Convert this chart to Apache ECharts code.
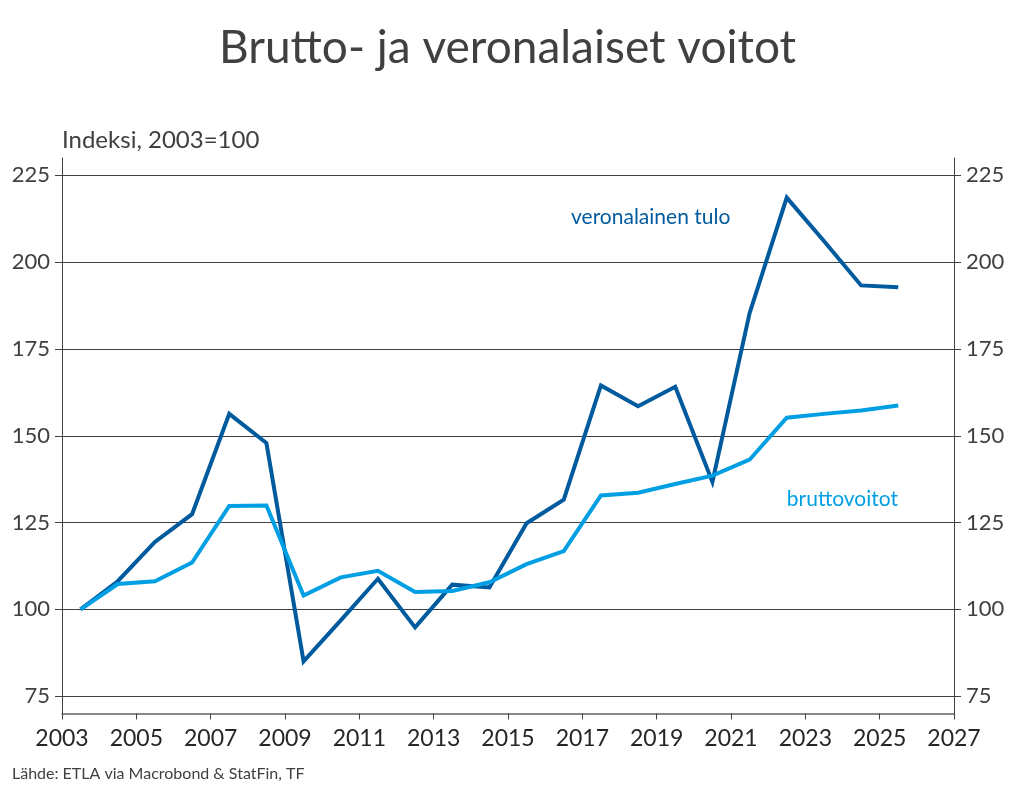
<!DOCTYPE html>
<html>
<head>
<meta charset="utf-8">
<script src="https://cdn.jsdelivr.net/npm/echarts@6/dist/echarts.min.js"></script>
<style>
html,body{margin:0;padding:0;background:#fff;}
#chart{width:1015px;height:789px;}
</style>
</head>
<body>
<div id="chart"></div>
<script>
// Data (years of observation; points plotted at mid-year)
const years = [2003,2004,2005,2006,2007,2008,2009,2010,2011,2012,2013,2014,2015,2016,2017,2018,2019,2020,2021,2022,2023,2024,2025];
const veronalainenTulo = [100,108.1,119.4,127.4,156.3,147.9,85.0,96.8,108.8,94.8,107.1,106.3,124.8,131.6,164.5,158.5,164.1,136.7,185.3,218.6,206.1,193.3,192.8];
const bruttovoitot = [100,107.3,108.1,113.5,129.8,129.9,104.0,109.2,111.1,105.0,105.3,107.8,113.0,116.8,132.8,133.6,136.1,138.5,143.1,155.2,156.3,157.3,158.7];
const xTickLabels = [2003,2005,2007,2009,2011,2013,2015,2017,2019,2021,2023,2025,2027];
const yTickLabels = [75,100,125,150,175,200,225];

const FONT = 'Lato';
const TXT = '#404040';
const DARK = '#005A9E';
const LIGHT = '#009FE3';

const chart = echarts.init(document.getElementById('chart'));

function yAxisCfg(pos) {
  return {
    type: 'value',
    position: pos,
    min: 70,
    max: 230,
    axisLine: { show: true, lineStyle: { color: TXT, width: 1 } },
    axisTick: { show: true, length: 7, customValues: yTickLabels, lineStyle: { color: TXT, width: 1 } },
    axisLabel: { customValues: yTickLabels, margin: 12, color: TXT, fontFamily: FONT, fontSize: 22 },
    splitLine: { show: pos === 'left', lineStyle: { color: TXT, width: 1 } }
  };
}

chart.setOption({
  animation: false,
  backgroundColor: '#fff',
  title: {
    text: 'Brutto- ja veronalaiset voitot',
    left: 'center',
    top: 20,
    textStyle: { color: TXT, fontFamily: FONT, fontSize: 46, fontWeight: 'normal' }
  },
  grid: { left: 62, right: 61, top: 158, bottom: 75.5, containLabel: false },
  xAxis: {
    type: 'value',
    min: 2003,
    max: 2027,
    axisLine: { show: true, onZero: false, lineStyle: { color: '#606060', width: 1.5 } },
    axisTick: { show: true, length: 6, customValues: xTickLabels, lineStyle: { color: TXT, width: 1 } },
    axisLabel: { customValues: xTickLabels, formatter: v => String(v), margin: 14, color: '#262626', fontFamily: FONT, fontSize: 23 },
    splitLine: { show: false }
  },
  yAxis: [yAxisCfg('left'), yAxisCfg('right')],
  series: [
    {
      name: 'veronalainen tulo',
      type: 'line',
      yAxisIndex: 0,
      data: years.map((y, i) => [y + 0.5, veronalainenTulo[i]]),
      symbol: 'none',
      lineStyle: { color: DARK, width: 4, join: 'miter' },
      z: 3
    },
    {
      name: 'bruttovoitot',
      type: 'line',
      yAxisIndex: 0,
      data: years.map((y, i) => [y + 0.5, bruttovoitot[i]]),
      symbol: 'none',
      lineStyle: { color: LIGHT, width: 4, join: 'miter' },
      z: 4
    }
  ],
  graphic: [
    { type: 'text', left: 62, top: 128, style: { text: 'Indeksi, 2003=100', fill: TXT, font: '24px ' + FONT } },
    { type: 'text', left: 571, top: 207, style: { text: 'veronalainen tulo', fill: DARK, font: '21px ' + FONT } },
    { type: 'text', right: 117, top: 489, style: { text: 'bruttovoitot', fill: LIGHT, font: '21px ' + FONT } },
    { type: 'text', left: 12, top: 766, style: { text: 'Lähde: ETLA via Macrobond & StatFin, TF', fill: TXT, font: '16px ' + FONT } }
  ]
});
</script>
</body>
</html>
